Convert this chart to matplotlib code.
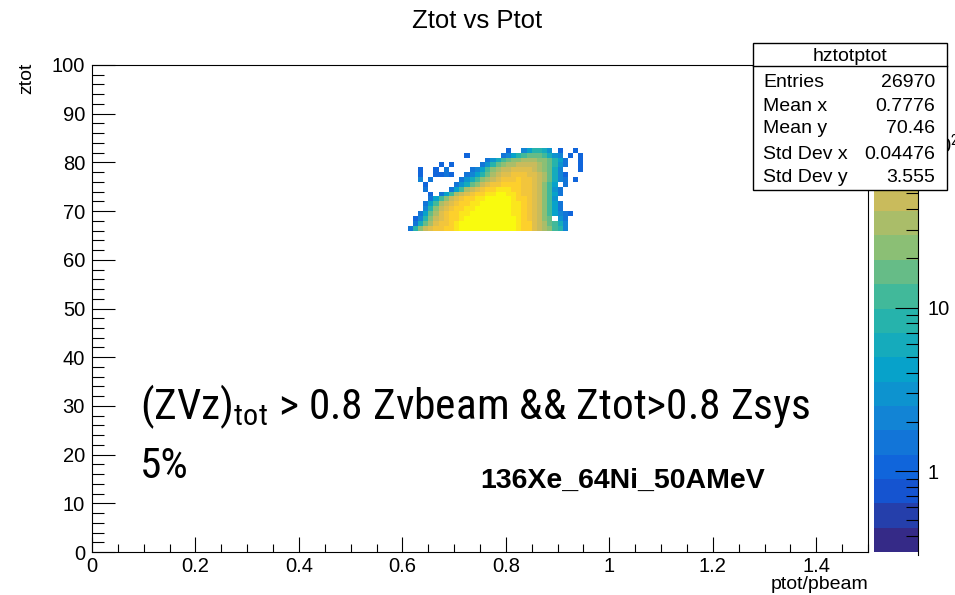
import numpy as np
import matplotlib
matplotlib.use('Agg')
import matplotlib.pyplot as plt
from matplotlib import font_manager
from matplotlib.colors import LinearSegmentedColormap, LogNorm
from matplotlib.ticker import MultipleLocator, FixedLocator, FuncFormatter, LogLocator, NullFormatter
from matplotlib.patches import Rectangle
from matplotlib.lines import Line2D

# histogram binning
x_lo, x_hi, n_xbins = 0.0, 1.5, 150
y_lo, y_hi, n_ybins = 0.0, 100.0, 100

# colour scale (log z) with 20 contour levels
z_min, z_max, n_levels = 0.32, 305.0, 20

# cells: one char per bin, '.' = empty,
# '0'-'9','a'-'j' = colour level 0..19; first column is x = 0.61, first row ztot = 82
map_x0 = 0.61
map_top_ztot = 82
level_rows = [
    "...................3..579986.3..3.",   # 82
    "...........3......4579abbba865.3.3",   # 81
    "...............468abccdddccb974..3",   # 80
    "......3.3.....469bcddeeeedcb964..3",   # 79
    "..3..3.4....457acdeeffffedcb85...3",   # 78
    "..3..3343..4579bdeffgggffedb853...",   # 77
    "..5.4.....468acdefggghggfedb854.3.",   # 76
    "...3.....468bcefgghhhhggfeca7.4...",   # 75
    "...4....47adefghhiiihhggfeca64....",   # 74
    "....3.47adefghhiijjiihggfeca74....",   # 73
    "....47acefghhiijjjjjihhgfeca6.....",   # 72
    "...47adefghhiijjjjjjiihgfeca74....",   # 71
    "...59cefghhiijjjjjjjiihgfeca74....",   # 70
    "..47bdfghhiijjjjjjjjiihgfeca7543..",   # 69
    ".359cefghhijjjjjjjjjjihgfecb.64...",   # 68
    ".48bdfgghijjjjjjjjjjjihhfedba85...",   # 67
    "49cefgghhijjjjjjjjjjjihhfedca95...",   # 66
]

stats_name = 'hztotptot'
stats_labels = ['Entries', 'Mean x', 'Mean y', 'Std Dev x', 'Std Dev y']
stats_values = ['26970', '0.7776', '70.46', '0.04476', '3.555']

cut_line1 = r'(ZVz)$_{\mathrm{tot}}$ > 0.8 Zvbeam && Ztot>0.8 Zsys'
cut_line2 = '5%'
system_label = '136Xe_64Ni_50AMeV'

# ROOT kBird palette
bird_stops = [0.0, 0.125, 0.25, 0.375, 0.5, 0.625, 0.75, 0.875, 1.0]
bird_r = [0.2082, 0.0592, 0.0780, 0.0232, 0.1802, 0.5301, 0.8186, 0.9956, 0.9764]
bird_g = [0.1664, 0.3599, 0.5041, 0.6419, 0.7178, 0.7492, 0.7328, 0.7862, 0.9832]
bird_b = [0.5293, 0.8684, 0.8385, 0.7914, 0.6425, 0.4662, 0.3499, 0.1968, 0.0539]
bird = LinearSegmentedColormap.from_list(
    'kbird', list(zip(bird_stops, zip(bird_r, bird_g, bird_b))), N=n_levels)

# pick a narrow family for the big annotation if one is installed
narrow_family = 'Liberation Sans'
for fam in ['Liberation Sans Narrow', 'Roboto Condensed', 'Open Sans Condensed',
            'DejaVu Sans Condensed', 'Roboto']:
    try:
        font_manager.findfont(font_manager.FontProperties(family=fam),
                              fallback_to_default=False)
        narrow_family = fam
        break
    except Exception:
        pass

plt.rcParams['font.family'] = ['Liberation Sans', 'DejaVu Sans']
plt.rcParams['mathtext.fontset'] = 'custom'
plt.rcParams['mathtext.rm'] = narrow_family

xe = np.linspace(x_lo, x_hi, n_xbins + 1)
ye = np.linspace(y_lo, y_hi, n_ybins + 1)
H = np.zeros((n_ybins, n_xbins))
i0 = int(round((map_x0 - x_lo) / ((x_hi - x_lo) / n_xbins)))
lz0, lz1 = np.log10(z_min), np.log10(z_max)
dz = (lz1 - lz0) / n_levels
for r, row in enumerate(level_rows):
    yi = map_top_ztot - r
    for c, ch in enumerate(row):
        if ch == '.':
            continue
        k = int(ch, 36)
        H[yi, i0 + c] = 10 ** (lz0 + (k + 0.5) * dz)
Hm = np.ma.masked_equal(H, 0)

W, Hpx = 955, 595


def fx(px):
    return px / W


def fy(py):
    return 1 - py / Hpx


fig = plt.figure(figsize=(W / 100, Hpx / 100), dpi=100)
ax = fig.add_axes([fx(92), fy(552), (868 - 92) / W, (552 - 65) / Hpx])
mesh = ax.pcolormesh(xe, ye, Hm, cmap=bird, norm=LogNorm(z_min, z_max))
ax.set_xlim(x_lo, x_hi)
ax.set_ylim(y_lo, y_hi)
for s in ax.spines.values():
    s.set_linewidth(0.8)

ax.xaxis.set_major_locator(MultipleLocator(0.2))
ax.xaxis.set_minor_locator(MultipleLocator(0.05))
ax.yaxis.set_major_locator(MultipleLocator(10))
ax.yaxis.set_minor_locator(MultipleLocator(2))
ax.xaxis.set_major_formatter(FuncFormatter(lambda v, p: '%g' % round(v, 2)))
ax.tick_params(which='both', direction='in', top=False, right=False, width=0.8, labelsize=14.5)
ax.tick_params(axis='x', which='major', length=10.8, pad=3.5)
ax.tick_params(axis='x', which='minor', length=5.8)
ax.tick_params(axis='y', which='major', length=16.6, pad=5)
ax.tick_params(axis='y', which='minor', length=8.6)

# colour bar
cax = fig.add_axes([fx(874), fy(552), 44 / W, (552 - 65) / Hpx])
cb = fig.colorbar(mesh, cax=cax)
cb.outline.set_visible(False)
cax.yaxis.set_major_locator(FixedLocator([1, 10, 100]))
cax.yaxis.set_minor_locator(LogLocator(subs=range(2, 10)))
cax.yaxis.set_minor_formatter(NullFormatter())
cax.yaxis.set_major_formatter(FuncFormatter(
    lambda v, p: {1: '1', 10: '10', 100: '10$^{2}$'}.get(int(round(v)), '')))
cax.tick_params(which='both', direction='in', right=True, left=False, width=0.8,
                labelsize=14.5, pad=7)
cax.tick_params(which='major', length=16.6)
cax.tick_params(which='minor', length=8.6)
fig.add_artist(Line2D([fx(918), fx(918)], [fy(555), fy(65)], color='black', lw=0.8))

# titles
fig.text(0.5, fy(28), 'Ztot vs Ptot', ha='center', va='baseline', fontsize=18.5)
fig.text(fx(868), fy(589), 'ptot/pbeam', ha='right', va='baseline', fontsize=14)
fig.text(fx(18), fy(63), 'ztot', ha='right', va='top', rotation=90, fontsize=14,
         rotation_mode='anchor')

# annotations
narrow = [narrow_family, 'DejaVu Sans']
t1 = fig.text(fx(140), fy(419), cut_line1, family=narrow, fontsize=34, va='baseline')
t2 = fig.text(fx(140), fy(478), cut_line2, family=narrow, fontsize=34, va='baseline')
fig.text(fx(480), fy(488), system_label, fontsize=20.5, fontweight='bold', va='baseline')

# shrink the big annotation so that it spans the same width as in the original
fig.canvas.draw()
w1 = t1.get_window_extent(fig.canvas.get_renderer()).width
size = min(34, 34 * 670 / w1)
t1.set_fontsize(size)
t2.set_fontsize(size)

# statistics box
fig.add_artist(Rectangle((fx(753), fy(190)), (947 - 753) / W, (190 - 43) / Hpx,
                         transform=fig.transFigure, facecolor='white',
                         edgecolor='black', lw=1, zorder=10))
fig.add_artist(Line2D([fx(753), fx(947)], [fy(66), fy(66)], color='black', lw=1, zorder=11))
fig.text(fx(850), fy(61), stats_name, ha='center', va='baseline', fontsize=14, zorder=12)
for lab, val, base in zip(stats_labels, stats_values, [87, 111, 133, 159, 182]):
    fig.text(fx(763), fy(base), lab, ha='left', va='baseline', fontsize=14, zorder=12)
    fig.text(fx(935), fy(base), val, ha='right', va='baseline', fontsize=14, zorder=12)

fig.savefig('out.png', dpi=100)
